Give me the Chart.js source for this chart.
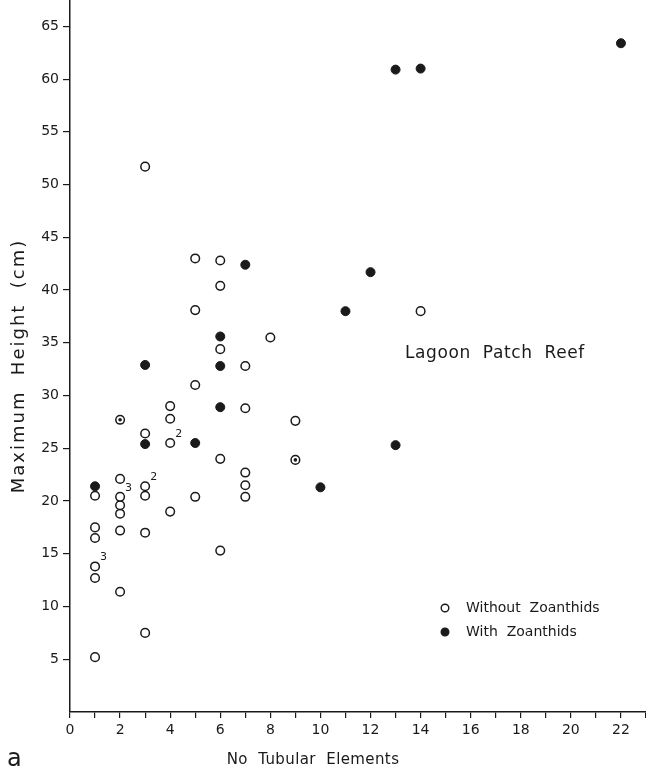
<!DOCTYPE html>
<html>
<head>
<meta charset="utf-8">
<script src="https://cdn.jsdelivr.net/npm/chart.js@4.4.1/dist/chart.umd.min.js"></script>
<style>
  html, body { margin: 0; padding: 0; background: #ffffff; }
  #wrap { width: 646px; height: 770px; position: relative; }
</style>
</head>
<body>
<div id="wrap"><canvas id="c" width="646" height="770"></canvas></div>
<script>
// ---- Data ----
const withoutX = [1, 1, 1, 1, 1, 1, 2, 2, 2, 2, 2, 2, 2, 3, 3, 3, 3, 3, 3, 4, 4, 4, 4, 5, 5, 5, 5, 6, 6, 6, 6, 6, 7, 7, 7, 7, 7, 8, 9, 9, 14];
const withoutY = [5.2, 12.7, 13.8, 16.5, 17.5, 20.5, 11.4, 17.2, 18.8, 19.6, 20.4, 22.1, 27.7, 7.5, 17.0, 20.5, 21.4, 26.4, 51.7, 19.0, 25.5, 27.8, 29.0, 20.4, 31.0, 38.1, 43.0, 15.3, 24.0, 34.4, 40.4, 42.8, 20.4, 21.5, 22.7, 28.8, 32.8, 35.5, 27.6, 23.9, 38.0];
const withX = [1, 3, 3, 5, 6, 6, 6, 7, 10, 11, 12, 13, 13, 14, 22];
const withY = [21.4, 25.4, 32.9, 25.5, 28.9, 32.8, 35.6, 42.4, 21.3, 38.0, 41.7, 25.3, 60.9, 61.0, 63.4];
// points marked with a dot inside an open circle
const dottedX = [2, 9];
const dottedY = [27.7, 23.9];
// multiplicity labels next to points
const noteX = [1, 2, 3, 4];
const noteY = [13.8, 20.4, 21.4, 25.5];
const noteText = ['3', '3', '2', '2'];
const seriesNames = ['Without  Zoanthids', 'With  Zoanthids'];
const xTitle = 'No  Tubular  Elements';
const yTitle = 'Maximum  Height  (cm)';
const plotLabel = 'Lagoon  Patch  Reef';
const panelLetter = 'a';

const FONT = "'DejaVu Sans', sans-serif";
const INK = '#1a1a1a';

function pts(xs, ys) { return xs.map((x, i) => ({ x: x, y: ys[i] })); }

const overlay = {
  id: 'overlay',
  afterDatasetsDraw(chart) {
    const ctx = chart.ctx;
    const xs = chart.scales.x, ys = chart.scales.y;
    ctx.save();
    ctx.fillStyle = INK;
    // multiplicity notes
    ctx.font = "11px " + FONT;
    ctx.textAlign = 'left';
    ctx.textBaseline = 'middle';
    noteText.forEach((t, i) => {
      ctx.fillText(t, xs.getPixelForValue(noteX[i]) + 5, ys.getPixelForValue(noteY[i]) - 9);
    });
    // plot label
    ctx.font = "17px " + FONT;
    ctx.letterSpacing = '0.6px';
    ctx.fillText(plotLabel, 405, 354);
    ctx.letterSpacing = '0px';
    // legend
    const ds = chart.data.datasets;
    ctx.font = "14px " + FONT;
    [0, 1].forEach((k, i) => {
      const cy = 608 + i * 24;
      ctx.beginPath();
      ctx.arc(445, cy, 3.8, 0, Math.PI * 2);
      ctx.fillStyle = ds[k].backgroundColor;
      ctx.fill();
      ctx.lineWidth = 1.4;
      ctx.strokeStyle = ds[k].borderColor;
      ctx.stroke();
      ctx.fillStyle = INK;
      ctx.fillText(seriesNames[k], 466, cy);
    });
    // axis titles
    ctx.textAlign = 'center';
    ctx.font = "15px " + FONT;
    ctx.letterSpacing = '0.4px';
    ctx.fillText(xTitle, 313, 760);
    ctx.save();
    ctx.translate(19, 366);
    ctx.rotate(-Math.PI / 2);
    ctx.font = "18px " + FONT;
    ctx.letterSpacing = '2px';
    ctx.fillText(yTitle, 0, 0);
    ctx.restore();
    ctx.letterSpacing = '0px';
    // panel letter
    ctx.textAlign = 'left';
    ctx.textBaseline = 'alphabetic';
    ctx.font = "24px " + FONT;
    ctx.fillText(panelLetter, 7, 766);
    ctx.restore();
  }
};

new Chart(document.getElementById('c'), {
  type: 'scatter',
  data: {
    datasets: [
      { label: seriesNames[0], data: pts(withoutX, withoutY), backgroundColor: '#ffffff', borderColor: INK,
        pointRadius: 4.3, pointBorderWidth: 1.5, pointHoverRadius: 4.3, order: 2 },
      { label: seriesNames[1], data: pts(withX, withY), backgroundColor: INK, borderColor: INK,
        pointRadius: 4.5, pointBorderWidth: 1, pointHoverRadius: 4.5, order: 1 },
      { label: 'dot', data: pts(dottedX, dottedY), backgroundColor: INK, borderColor: INK,
        pointRadius: 1.8, pointBorderWidth: 0, order: 0 }
    ]
  },
  options: {
    responsive: false,
    animation: false,
    devicePixelRatio: 1,
    layout: { padding: 0, autoPadding: false },
    plugins: { legend: { display: false }, tooltip: { enabled: false } },
    scales: {
      x: {
        type: 'linear', min: 0, max: 23,
        afterFit(s) { s.height = 58; s.paddingLeft = 0; s.paddingRight = 0; },
        afterBuildTicks(s) { s.ticks = s.ticks.filter(t => Number.isInteger(t.value)); },
        ticks: {
          stepSize: 1, autoSkip: false, maxRotation: 0, color: INK, padding: 4,
          font: { family: FONT, size: 14 },
          callback: v => (v % 2 === 0 && v <= 22 ? String(v) : '')
        },
        grid: { drawOnChartArea: false, drawTicks: true, tickLength: 6, color: INK, lineWidth: 1.2 },
        border: { display: true, color: INK, width: 1.5 },
        title: { display: false }
      },
      y: {
        type: 'linear', min: 0, max: 67.5,
        afterFit(s) { s.width = 70; s.paddingTop = 0; s.paddingBottom = 0; },
        afterBuildTicks(s) { s.ticks = s.ticks.filter(t => t.value % 5 === 0 && t.value > 0); },
        ticks: {
          stepSize: 5, autoSkip: false, color: INK, padding: 4,
          font: { family: FONT, size: 14 }
        },
        grid: { drawOnChartArea: false, drawTicks: true, tickLength: 7, color: INK, lineWidth: 1.2 },
        border: { display: true, color: INK, width: 1.5 },
        title: { display: false }
      }
    }
  },
  plugins: [overlay]
});
</script>
</body>
</html>
